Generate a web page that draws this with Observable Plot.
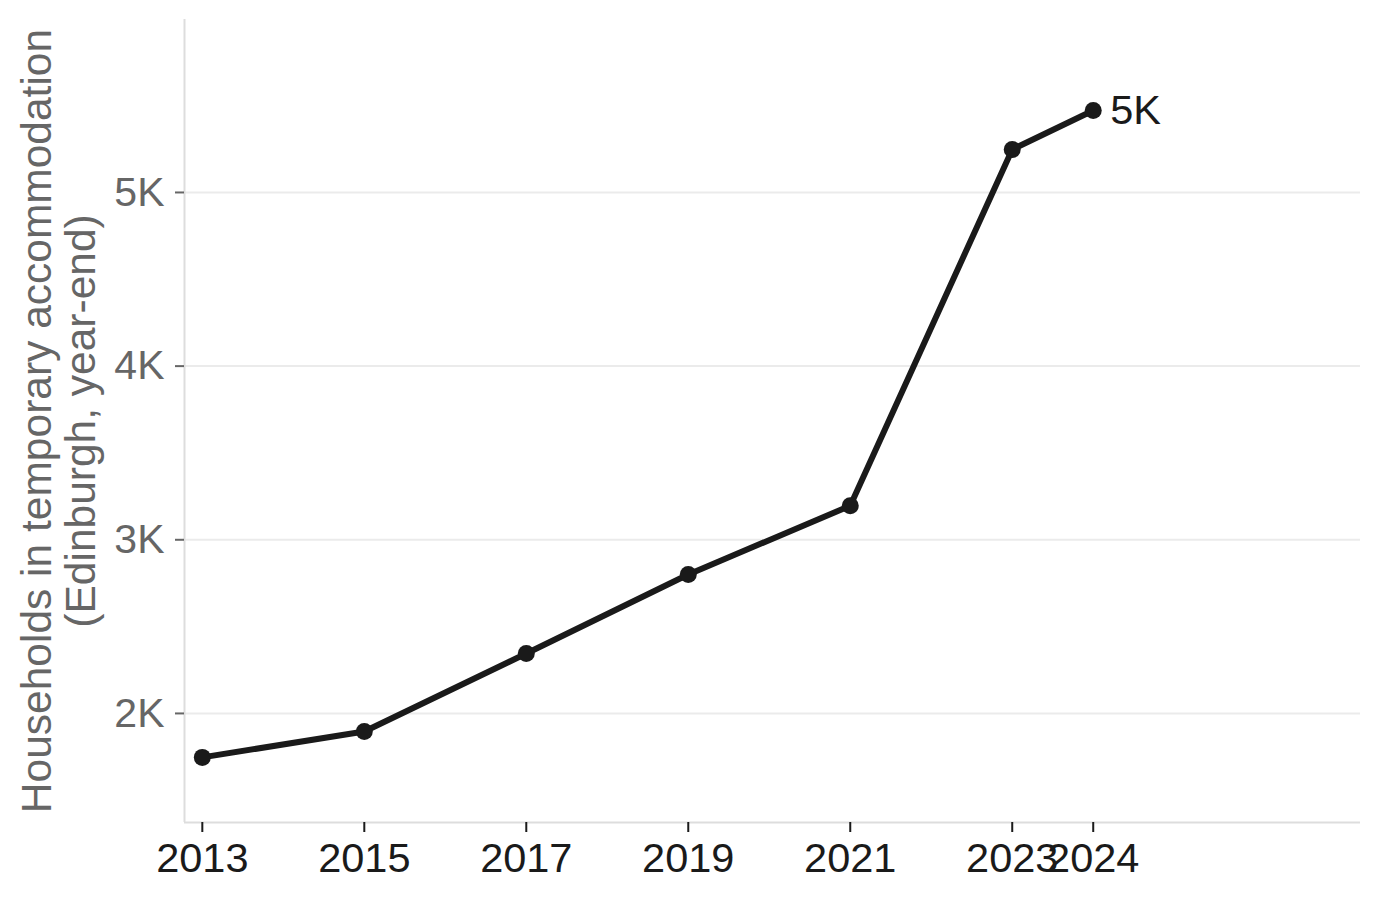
<!DOCTYPE html>
<html>
<head>
<meta charset="utf-8">
<script src="https://cdn.jsdelivr.net/npm/d3@7"></script>
<script src="https://cdn.jsdelivr.net/npm/@observablehq/plot@0.6"></script>
<style>
  html, body { margin: 0; padding: 0; background: #fff; }
  #chart svg { display: block; }
</style>
</head>
<body>
<div id="chart"></div>
<script>
const years = [2013, 2015, 2017, 2019, 2021, 2023, 2024];
const households = [1747, 1896, 2345, 2800, 3196, 5248, 5472];
const yTicks = [2000, 3000, 4000, 5000];
const xDomain = [2012.78, 2027.3];
const yDomain = [1372, 5996];
const yTitle = "Households in temporary accommodation\n(Edinburgh, year-end)";

const data = years.map((y, i) => ({year: y, value: households[i]}));
const last = data[data.length - 1];
const ink = "#1a1a1a";
const grey = "#666666";
const fmtK = v => d3.format(".1s")(v).replace("k", "K");

const chart = Plot.plot({
  width: 1380,
  height: 899,
  marginLeft: 184,
  marginRight: 20,
  marginTop: 19,
  marginBottom: 77,
  style: {fontFamily: "'Liberation Sans', Arial, Helvetica, sans-serif", background: "#fff"},
  x: {domain: xDomain},
  y: {domain: yDomain},
  marks: [
    Plot.ruleY(yTicks, {stroke: "#ebebeb", strokeWidth: 2}),
    Plot.ruleX([xDomain[0]], {stroke: "#dddddd", strokeWidth: 2}),
    Plot.ruleY([yDomain[0]], {stroke: "#dddddd", strokeWidth: 2}),
    Plot.axisY({ticks: yTicks, tickFormat: fmtK, fontSize: 41, color: grey, tickSize: 9, tickPadding: 11, label: null, strokeWidth: 2}),
    Plot.axisX({ticks: years, tickFormat: d => String(d), fontSize: 41.5, color: ink, tickSize: 10, tickPadding: 10, label: null, strokeWidth: 2}),
    Plot.text([yTitle], {frameAnchor: "left", rotate: -90, textAnchor: "middle", lineAnchor: "middle", dx: -126, fontSize: 42.5, lineHeight: 1.04, fill: grey}),
    Plot.line(data, {x: "year", y: "value", stroke: ink, strokeWidth: 6}),
    Plot.dot(data, {x: "year", y: "value", r: 8.5, fill: ink, stroke: "none"}),
    Plot.text([last], {x: "year", y: "value", text: d => fmtK(d.value), textAnchor: "start", dx: 17, fontSize: 41.5, fill: ink})
  ]
});
document.getElementById("chart").appendChild(chart);
</script>
</body>
</html>
